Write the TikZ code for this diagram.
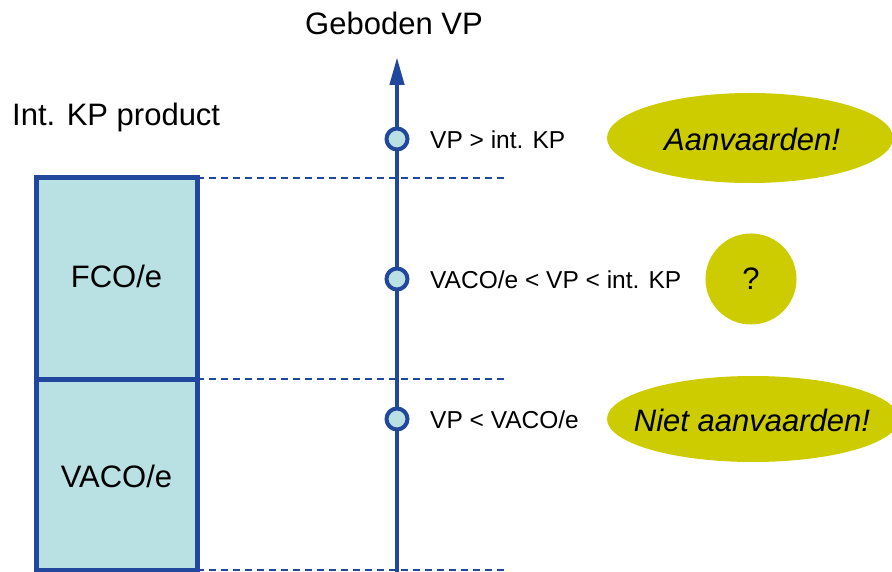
\documentclass[tikz,border=0pt]{standalone}
\usepackage{fontspec}
\setmainfont{Liberation Sans}
\usetikzlibrary{arrows.meta,shapes.geometric}
\definecolor{axisblue}{RGB}{33,72,156}
\definecolor{boxfill}{RGB}{185,224,227}
\definecolor{olive}{RGB}{204,204,0}
\tikzset{
  bigtext/.style={font=\fontsize{31}{36}\selectfont, inner sep=0pt},
  labeltext/.style={font=\fontsize{24.5}{28}\selectfont, anchor=west, inner sep=0pt},
  tick/.style={circle, draw=axisblue, line width=4pt, fill=boxfill, minimum size=21pt, inner sep=0pt},
  level/.style={draw=axisblue, line width=1.4pt, dash pattern=on 7pt off 5pt},
  verdicttext/.style={font=\fontsize{31}{36}\selectfont\itshape, inner sep=0pt},
  costbox/.style={draw=axisblue, line width=5pt, fill=boxfill}
}
\begin{document}
\begin{tikzpicture}[x=1pt,y=-1pt]
\useasboundingbox (0,0) rectangle (892,572);
\clip (0,0) rectangle (892,572);

% cost breakdown of the product
\draw[costbox] (36,178) rectangle (197,379);
\draw[costbox] (36,379) rectangle (197,570);
\node[bigtext] (fco) at (116.5,276) {FCO/e};
\node[bigtext] (vaco) at (116.5,476) {VACO/e};
\node[bigtext, anchor=west] (intkp) at (12,117) {Int. KP product};

% price levels
\coordinate (t1) at (197,178);  \coordinate (t2) at (508,178);
\coordinate (m1) at (197,379);  \coordinate (m2) at (508,379);
\coordinate (b1) at (197,570);  \coordinate (b2) at (508,570);
\draw[level] (t1) -- (t2);
\draw[level] (m1) -- (m2);
\draw[level] (b1) -- (b2);

% offered price axis
\coordinate (axbot) at (397,572);
\coordinate (axtop) at (397,57);
\draw[axisblue, line width=4.5pt, -{Triangle[length=28pt,width=14pt]}] (axbot) -- (axtop);
\node[bigtext] (axlabel) at (394,23) {Geboden VP};

\node[tick] (p1) at (397,139) {};
\node[tick] (p2) at (397,279) {};
\node[tick] (p3) at (397,419) {};

\node[labeltext] (l1) at (430,140) {VP > int. KP};
\node[labeltext] (l2) at (430,280) {VACO/e < VP < int. KP};
\node[labeltext] (l3) at (430,420) {VP < VACO/e};

% decisions
\fill[olive] (750,138) ellipse [x radius=143, y radius=45];
\node[verdicttext] (yes) at (752,139) {Aanvaarden!};
\node[circle, fill=olive, minimum size=91pt, inner sep=0pt, font=\fontsize{31}{36}\selectfont] (maybe) at (751,279) {?};
\fill[olive] (753,419) ellipse [x radius=146, y radius=43];
\node[verdicttext] (no) at (752,420) {Niet aanvaarden!};
\end{tikzpicture}
\end{document}
